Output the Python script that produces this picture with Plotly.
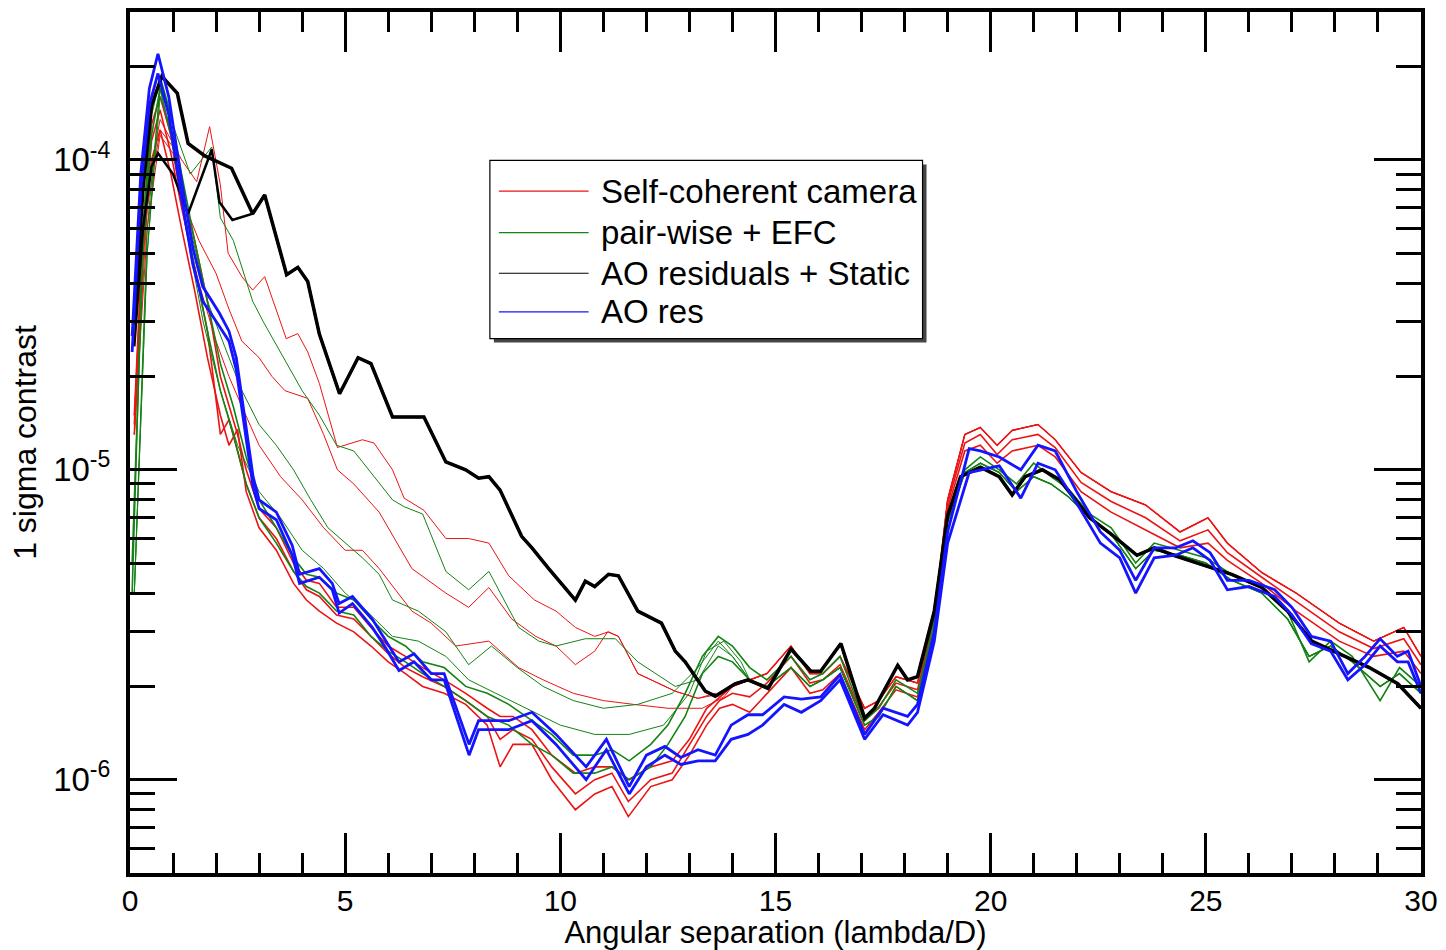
import plotly.graph_objects as go
import math

# ---------------- data ----------------
# AO residuals + Static (black)
BLK_X = [0.1, 0.3, 0.5, 0.74, 1.1, 1.35, 1.74, 2.08, 2.36, 2.85, 3.13, 3.64, 3.9, 4.13, 4.4, 4.87, 5.3, 5.6,
         6.1, 6.83, 7.34, 7.8, 8.1, 8.34, 8.6, 9.1, 9.34, 9.73, 10.35, 10.58, 10.8, 11.12, 11.35, 11.8, 12.35,
         12.67, 12.9, 13.37, 13.6, 14.06, 14.36, 14.83, 15.36, 15.82, 16.05, 16.52, 17.07, 17.3, 17.84, 18.07,
         18.3, 18.69, 19.0, 19.3, 19.76, 20.2, 20.5, 20.8, 21.2, 21.6, 22.3, 22.8, 23.4, 23.8, 24.25, 25.0,
         25.6, 26.3, 26.9, 27.46, 28.25, 28.8, 29.46, 30.0]
BLK_Y = [3e-5, 8e-5, 1.5e-4, 1.86e-4, 1.64e-4, 1.13e-4, 1.03e-4, 9.8e-5, 9.4e-5, 6.7e-5, 7.7e-5, 4.26e-5,
         4.5e-5, 4.05e-5, 2.74e-5, 1.76e-5, 2.3e-5, 2.2e-5, 1.48e-5, 1.48e-5, 1.06e-5, 1.0e-5, 9.4e-6, 9.5e-6,
         8.6e-6, 6.1e-6, 5.6e-6, 4.8e-6, 3.8e-6, 4.37e-6, 4.2e-6, 4.6e-6, 4.55e-6, 3.5e-6, 3.2e-6, 2.6e-6,
         2.4e-6, 1.93e-6, 1.86e-6, 2.04e-6, 2.1e-6, 1.97e-6, 2.64e-6, 2.24e-6, 2.24e-6, 2.75e-6, 1.58e-6,
         1.7e-6, 2.34e-6, 2.1e-6, 2.15e-6, 3.5e-6, 7.1e-6, 9.5e-6, 1.02e-5, 9.5e-6, 8.3e-6, 9.5e-6, 1.0e-5,
         9.3e-6, 7.0e-6, 6.2e-6, 5.3e-6, 5.6e-6, 5.3e-6, 4.9e-6, 4.6e-6, 4.17e-6, 3.5e-6, 2.8e-6, 2.5e-6,
         2.3e-6, 2.04e-6, 1.7e-6]
# second black branch near the first peak (joins BLK after x=2.85)
BLK2_X = [0.1, 0.3, 0.5, 0.65, 1.0, 1.35, 1.9, 2.08, 2.38, 2.85]
BLK2_Y = [2.5e-5, 6e-5, 9.5e-5, 1.05e-4, 9e-5, 6.7e-5, 1.08e-4, 7.3e-5, 6.4e-5, 6.7e-5]

# AO res (blue), upper and lower edges of the bundle
BLU_X = [0.05, 0.25, 0.45, 0.65, 0.9, 1.2, 1.46, 1.69, 2.08, 2.3, 2.47, 2.86, 3.0, 3.4, 3.77, 3.94, 4.4, 4.7,
         4.86, 5.17, 5.63, 5.95, 6.25, 6.6, 7.0, 7.3, 7.88, 8.1, 8.8, 9.34, 9.9, 10.6, 11.07, 11.6, 12.0, 12.43,
         12.8, 13.2, 13.6, 13.97, 14.36, 14.7, 15.2, 15.6, 16.05, 16.5, 17.07, 17.5, 18.07, 18.3, 18.69, 19.0,
         19.5, 19.76, 20.2, 20.7, 21.1, 21.5, 22.0, 22.55, 23.0, 23.37, 23.8, 24.3, 24.7, 25.1, 25.5, 26.0,
         26.6, 27.0, 27.45, 27.9, 28.3, 28.7, 29.05, 29.45, 29.7, 30.0]
BLU_A_Y = [2.7e-5, 9e-5, 1.7e-4, 2.2e-4, 1.6e-4, 8.5e-5, 5.2e-5, 3.9e-5, 3.2e-5, 2.8e-5, 2.3e-5, 9.5e-6, 8.0e-6,
           7.3e-6, 5.7e-6, 4.6e-6, 4.8e-6, 4.3e-6, 3.7e-6, 3.9e-6, 3.3e-6, 2.8e-6, 2.4e-6, 2.55e-6, 2.2e-6,
           2.2e-6, 1.3e-6, 1.55e-6, 1.55e-6, 1.65e-6, 1.4e-6, 1.1e-6, 1.35e-6, 0.95e-6, 1.2e-6, 1.28e-6,
           1.18e-6, 1.25e-6, 1.2e-6, 1.5e-6, 1.62e-6, 1.62e-6, 1.85e-6, 1.82e-6, 1.85e-6, 2.18e-6, 1.4e-6,
           1.7e-6, 1.6e-6, 1.75e-6, 3.0e-6, 6.3e-6, 1.17e-5, 1.15e-5, 1.1e-5, 1.0e-5, 1.2e-5, 1.15e-5, 8.5e-6,
           6.3e-6, 5.5e-6, 4.4e-6, 5.6e-6, 5.6e-6, 5.9e-6, 5.4e-6, 4.4e-6, 4.4e-6, 4.1e-6, 3.6e-6, 2.9e-6,
           2.8e-6, 2.2e-6, 2.5e-6, 2.85e-6, 2.5e-6, 2.6e-6, 2.0e-6]
BLU_B_Y = [2.4e-5, 8e-5, 1.5e-4, 1.9e-4, 1.4e-4, 7.5e-5, 4.6e-5, 3.5e-5, 2.9e-5, 2.6e-5, 2.1e-5, 8.8e-6, 7.5e-6,
           6.9e-6, 5.3e-6, 4.3e-6, 4.5e-6, 4.1e-6, 3.45e-6, 3.7e-6, 3.1e-6, 2.65e-6, 2.25e-6, 2.4e-6, 2.1e-6,
           2.1e-6, 1.2e-6, 1.45e-6, 1.45e-6, 1.55e-6, 1.3e-6, 1.0e-6, 1.25e-6, 0.9e-6, 1.1e-6, 1.2e-6, 1.12e-6,
           1.15e-6, 1.15e-6, 1.35e-6, 1.4e-6, 1.5e-6, 1.75e-6, 1.65e-6, 1.8e-6, 2.1e-6, 1.35e-6, 1.62e-6,
           1.5e-6, 1.65e-6, 2.8e-6, 5.8e-6, 9.8e-6, 1.0e-5, 1.03e-5, 8.1e-6, 1.05e-5, 1.0e-5, 7.8e-6, 5.8e-6,
           5.2e-6, 4.0e-6, 5.2e-6, 5.3e-6, 5.6e-6, 5.1e-6, 4.1e-6, 4.2e-6, 3.9e-6, 3.4e-6, 2.75e-6, 2.6e-6,
           2.1e-6, 2.35e-6, 2.7e-6, 2.4e-6, 2.4e-6, 1.9e-6]

# Self-coherent camera (red): converged bundle edges
RED_X = [0.1, 0.3, 0.5, 0.7, 0.95, 1.2, 1.5, 1.8, 2.1, 2.3, 2.5, 2.7, 3.0, 3.4, 3.8, 4.1, 4.4, 4.8, 5.2, 5.6,
         6.0, 6.4, 6.8, 7.3, 7.8, 8.3, 8.6, 8.9, 9.34, 9.8, 10.35, 10.8, 11.2, 11.58, 12.1, 12.6, 13.0, 13.4,
         13.7, 14.0, 14.4, 14.8, 15.36, 15.8, 16.1, 16.5, 17.07, 17.4, 17.8, 18.3, 18.7, 19.0, 19.4, 19.76,
         20.15, 20.5, 21.1, 21.5, 22.1, 22.8, 23.6, 24.4, 25.05, 25.5, 26.3, 27.1, 28.1, 28.9, 29.6, 30.0]
RED_A_Y = [1.5e-5, 6e-5, 1.3e-4, 1.6e-4, 1.2e-4, 8e-5, 5.5e-5, 3.5e-5, 2.0e-5, 1.6e-5, 1.3e-5, 1.0e-5, 7.5e-6,
           6.5e-6, 5.0e-6, 4.4e-6, 4.3e-6, 3.6e-6, 3.6e-6, 3.1e-6, 2.7e-6, 2.5e-6, 2.3e-6, 2.1e-6, 1.9e-6,
           1.7e-6, 1.6e-6, 1.6e-6, 1.45e-6, 1.2e-6, 1.05e-6, 1.1e-6, 1.1e-6, 1.0e-6, 1.1e-6, 1.15e-6, 1.35e-6,
           1.7e-6, 1.85e-6, 2.0e-6, 2.1e-6, 2.2e-6, 2.7e-6, 2.2e-6, 2.2e-6, 2.5e-6, 1.7e-6, 1.8e-6, 2.15e-6,
           2.05e-6, 3.5e-6, 8e-6, 1.3e-5, 1.37e-5, 1.2e-5, 1.34e-5, 1.4e-5, 1.25e-5, 9.8e-6, 8.5e-6, 7.7e-6,
           6.3e-6, 7.0e-6, 5.8e-6, 4.66e-6, 4.0e-6, 3.2e-6, 2.8e-6, 3.1e-6, 2.5e-6]
RED_B_Y = [1.3e-5, 5e-5, 1.0e-4, 1.25e-4, 9e-5, 6e-5, 3.8e-5, 2.3e-5, 1.5e-5, 1.2e-5, 1.35e-5, 8.5e-6, 6.5e-6,
           5.5e-6, 4.3e-6, 3.8e-6, 3.5e-6, 3.2e-6, 3.0e-6, 2.7e-6, 2.4e-6, 2.2e-6, 2.0e-6, 1.9e-6, 1.75e-6,
           1.5e-6, 1.1e-6, 1.3e-6, 1.3e-6, 1.0e-6, 0.8e-6, 0.9e-6, 0.95e-6, 0.76e-6, 0.95e-6, 1.0e-6, 1.2e-6,
           1.5e-6, 1.7e-6, 1.75e-6, 1.65e-6, 1.9e-6, 2.3e-6, 1.9e-6, 1.95e-6, 2.2e-6, 1.45e-6, 1.65e-6, 1.95e-6,
           1.85e-6, 3.3e-6, 7.5e-6, 1.15e-5, 1.2e-5, 1.05e-5, 1.15e-5, 1.2e-5, 1.1e-5, 8.5e-6, 7.3e-6, 6.4e-6,
           5.6e-6, 5.8e-6, 5.1e-6, 4.3e-6, 3.5e-6, 2.8e-6, 2.5e-6, 2.6e-6, 2.2e-6]
RED_C_Y = [1.4e-5, 5.5e-5, 1.15e-4, 1.45e-4, 1.05e-4, 7e-5, 4.5e-5, 2.8e-5, 1.3e-5, 1.45e-5, 1.15e-5, 9e-6, 7e-6,
           6e-6, 4.7e-6, 4.1e-6, 3.9e-6, 3.4e-6, 3.3e-6, 2.9e-6, 2.55e-6, 2.3e-6, 2.15e-6, 2.0e-6, 1.8e-6,
           1.6e-6, 1.35e-6, 1.45e-6, 1.35e-6, 1.1e-6, 0.9e-6, 1.0e-6, 1.05e-6, 0.85e-6, 1.0e-6, 1.05e-6, 1.3e-6,
           1.6e-6, 1.8e-6, 1.9e-6, 1.85e-6, 2.05e-6, 2.5e-6, 2.05e-6, 2.1e-6, 2.35e-6, 1.55e-6, 1.72e-6, 2.05e-6,
           1.95e-6, 3.4e-6, 7.8e-6, 1.22e-5, 1.3e-5, 1.12e-5, 1.25e-5, 1.3e-5, 1.18e-5, 9.1e-6, 7.9e-6, 7.0e-6,
           5.9e-6, 6.4e-6, 5.4e-6, 4.5e-6, 3.75e-6, 3.0e-6, 2.65e-6, 2.85e-6, 2.35e-6]
# Self-coherent camera: intermediate (not yet converged) curves
RED1_X = [0.1, 0.4, 0.7, 1.2, 1.55, 1.85, 2.1, 2.28, 2.6, 2.85, 3.13, 3.63, 3.9, 4.13, 4.4, 4.82, 5.4, 5.67,
          6.1, 6.37, 6.83, 7.34, 7.87, 8.34, 8.8, 9.4, 9.9, 10.35, 10.8, 11.12, 11.35, 11.8, 12.67, 13.2, 13.6]
RED1_Y = [1.5e-5, 8e-5, 1.35e-4, 1.0e-4, 8.5e-5, 1.28e-4, 8.3e-5, 5.0e-5, 4.2e-5, 3.8e-5, 4.2e-5, 2.65e-5,
          2.75e-5, 2.4e-5, 1.9e-5, 1.18e-5, 1.25e-5, 1.22e-5, 1.0e-5, 8.1e-6, 7.4e-6, 6.0e-6, 6.0e-6, 5.8e-6,
          4.55e-6, 3.8e-6, 3.5e-6, 3.1e-6, 2.9e-6, 3.0e-6, 2.9e-6, 2.2e-6, 1.93e-6, 1.83e-6, 1.9e-6]
RED2_X = [0.1, 0.4, 0.7, 1.0, 1.3, 1.6, 2.0, 2.3, 2.6, 3.0, 3.3, 3.6, 4.13, 4.5, 4.82, 5.2, 5.79, 6.55, 7.34,
          7.87, 8.34, 8.87, 9.43, 9.9, 10.35, 10.8, 11.1, 11.35, 11.8, 12.67, 13.2, 13.8]
RED2_Y = [1.3e-5, 7e-5, 1.25e-4, 1.1e-4, 7e-5, 5.5e-5, 4.3e-5, 3.3e-5, 2.6e-5, 2.3e-5, 2.0e-5, 1.8e-5, 1.7e-5,
          1.3e-5, 1.0e-5, 9e-6, 7.3e-6, 4.8e-6, 4.0e-6, 3.6e-6, 4.17e-6, 3.3e-6, 2.9e-6, 2.7e-6, 2.35e-6,
          2.6e-6, 3.0e-6, 2.9e-6, 2.2e-6, 1.93e-6, 1.83e-6, 1.9e-6]
RED3_X = [0.1, 0.4, 0.7, 1.0, 1.3, 1.6, 2.0, 2.3, 2.6, 3.0, 3.5, 4.0, 4.5, 5.0, 5.4, 5.79, 6.55, 7.0, 7.57, 8.34,
          9.03, 9.6, 10.3, 11.0, 11.7, 12.5, 13.3, 13.8]
RED3_Y = [1.3e-5, 6e-5, 1.2e-4, 1.05e-4, 6e-5, 4e-5, 2.6e-5, 2.0e-5, 1.6e-5, 1.2e-5, 9.5e-6, 8e-6, 6.5e-6,
          5.5e-6, 5.5e-6, 4.8e-6, 3.5e-6, 3.2e-6, 2.7e-6, 2.8e-6, 2.3e-6, 2.1e-6, 1.9e-6, 1.8e-6, 1.75e-6,
          1.7e-6, 1.7e-6, 1.85e-6]

# pair-wise + EFC (green): converged bundle edges
GRN_X = [0.05, 0.3, 0.5, 0.7, 0.95, 1.2, 1.5, 1.8, 2.1, 2.4, 2.7, 3.0, 3.4, 3.8, 4.1, 4.4, 4.8, 5.2, 5.6, 6.0,
         6.4, 6.8, 7.3, 7.8, 8.3, 8.8, 9.34, 9.8, 10.3, 10.8, 11.2, 11.6, 12.1, 12.5, 12.9, 13.3, 13.67, 14.0,
         14.4, 14.8, 15.36, 15.8, 16.1, 16.5, 17.07, 17.4, 17.8, 18.3, 18.7, 19.0, 19.4, 19.76, 20.2, 20.6, 21.0,
         21.4, 21.8, 22.3, 22.8, 23.37, 23.8, 24.4, 25.0, 25.6, 26.3, 26.9, 27.4, 27.9, 28.4, 29.05, 29.5, 30.0]
GRN_A_Y = [4e-6, 6e-5, 1.4e-4, 1.85e-4, 1.4e-4, 9e-5, 5.5e-5, 3.5e-5, 2.2e-5, 1.6e-5, 1.1e-5, 8e-6, 6.5e-6,
           5.2e-6, 4.6e-6, 4.5e-6, 4.0e-6, 3.8e-6, 3.3e-6, 2.9e-6, 2.7e-6, 2.4e-6, 2.3e-6, 2.0e-6, 1.9e-6,
           1.75e-6, 1.55e-6, 1.4e-6, 1.2e-6, 1.2e-6, 1.25e-6, 1.15e-6, 1.3e-6, 1.5e-6, 1.9e-6, 2.5e-6, 2.9e-6,
           2.7e-6, 2.3e-6, 2.1e-6, 2.5e-6, 2.1e-6, 2.2e-6, 2.5e-6, 1.55e-6, 1.7e-6, 2.1e-6, 1.9e-6, 3.3e-6, 7e-6,
           1.0e-5, 1.1e-5, 1.0e-5, 9e-6, 1.05e-5, 9.5e-6, 8.7e-6, 7.2e-6, 6.5e-6, 5.0e-6, 5.8e-6, 5.5e-6, 5.2e-6,
           4.6e-6, 4.2e-6, 3.5e-6, 2.4e-6, 2.8e-6, 2.5e-6, 1.8e-6, 2.3e-6, 2.0e-6]
GRN_B_Y = [5e-6, 5e-5, 1.2e-4, 1.7e-4, 1.2e-4, 7.5e-5, 4.5e-5, 2.8e-5, 1.8e-5, 1.3e-5, 9e-6, 7e-6, 5.8e-6, 4.7e-6,
           4.2e-6, 4.0e-6, 3.5e-6, 3.4e-6, 2.9e-6, 2.6e-6, 2.4e-6, 2.2e-6, 2.0e-6, 1.8e-6, 1.6e-6, 1.5e-6, 1.3e-6,
           1.2e-6, 1.05e-6, 1.05e-6, 1.1e-6, 1.0e-6, 1.1e-6, 1.3e-6, 1.6e-6, 2.2e-6, 2.5e-6, 2.4e-6, 2.1e-6,
           2.0e-6, 2.3e-6, 2.0e-6, 2.1e-6, 2.3e-6, 1.5e-6, 1.6e-6, 2.0e-6, 1.8e-6, 3.1e-6, 6.8e-6, 9.8e-6,
           1.05e-5, 9.8e-6, 8.5e-6, 9.5e-6, 9e-6, 8.2e-6, 7e-6, 6.2e-6, 4.8e-6, 5.5e-6, 5.3e-6, 5.0e-6, 4.4e-6,
           4.0e-6, 3.3e-6, 2.5e-6, 2.7e-6, 2.4e-6, 2.0e-6, 2.2e-6, 1.9e-6]
# pair-wise + EFC: intermediate curves
GRN1_X = [0.1, 0.4, 0.7, 1.0, 1.4, 1.9, 2.1, 2.4, 2.85, 3.1, 3.5, 4.0, 4.4, 4.8, 5.2, 5.79, 6.1, 6.37, 6.8, 7.34,
          7.87, 8.34, 9.03, 9.5, 9.9, 10.58, 11.28, 11.8, 12.67, 13.2, 13.67, 14.0]
GRN1_Y = [4e-6, 6e-5, 1.7e-4, 1.3e-4, 9e-5, 1.1e-4, 6.5e-5, 5.5e-5, 3.5e-5, 3.0e-5, 2.4e-5, 1.8e-5, 1.5e-5,
          1.2e-5, 1.15e-5, 9.1e-6, 8e-6, 7.6e-6, 7.2e-6, 4.7e-6, 4.1e-6, 4.7e-6, 3.1e-6, 2.8e-6, 2.7e-6, 2.85e-6,
          2.85e-6, 2.4e-6, 2.0e-6, 2.1e-6, 2.7e-6, 2.5e-6]
GRN2_X = [0.1, 0.4, 0.7, 1.0, 1.4, 1.8, 2.2, 2.6, 3.0, 3.4, 3.8, 4.2, 4.6, 5.0, 5.4, 5.79, 6.1, 6.7, 7.34, 7.87,
          8.4, 9.0, 9.6, 10.3, 11.0, 11.8, 12.6, 13.2, 13.67, 14.0]
GRN2_Y = [4e-6, 5e-5, 1.6e-4, 1.2e-4, 6e-5, 3.5e-5, 2.5e-5, 1.8e-5, 1.4e-5, 1.2e-5, 1.0e-5, 8e-6, 6.5e-6,
          5.8e-6, 5.2e-6, 4.6e-6, 3.8e-6, 3.5e-6, 3.0e-6, 2.35e-6, 2.7e-6, 2.3e-6, 2.0e-6, 1.8e-6, 1.7e-6,
          1.75e-6, 1.9e-6, 2.3e-6, 2.8e-6, 2.5e-6]
GRN3_X = [0.1, 0.4, 0.7, 1.0, 1.3, 1.7, 2.1, 2.5, 3.0, 3.5, 4.0, 4.5, 5.0, 5.5, 6.1, 6.7, 7.34, 7.87, 8.5, 9.2,
          10.0, 10.8, 11.6, 12.4, 13.0, 13.4, 13.8, 14.2]
GRN3_Y = [4e-6, 5e-5, 1.8e-4, 1.3e-4, 6e-5, 3e-5, 1.8e-5, 1.2e-5, 8.5e-6, 7e-6, 5.5e-6, 4.8e-6, 4e-6, 3.5e-6,
          2.9e-6, 2.8e-6, 2.5e-6, 2.1e-6, 1.9e-6, 1.7e-6, 1.5e-6, 1.4e-6, 1.4e-6, 1.5e-6, 1.9e-6, 2.6e-6,
          2.8e-6, 2.4e-6]

SERIES_NAMES = ["Self-coherent camera", "pair-wise + EFC", "AO residuals + Static", "AO res"]
X_TICKS = [0, 5, 10, 15, 20, 25, 30]
Y_TICKS = [1e-6, 1e-5, 1e-4]
Y_TICK_TEXT = ["10<sup>-6</sup>", "10<sup>-5</sup>", "10<sup>-4</sup>"]
X_TITLE = "Angular separation (lambda/D)"
Y_TITLE = "1 sigma contrast"

# ---------------- styling ----------------
RED = "rgb(235,20,20)"
GREEN = "rgb(20,130,20)"
BLACK = "rgb(0,0,0)"
BLUE = "rgb(20,20,255)"
FONT = "Liberation Sans, Arial, Helvetica, sans-serif"


def join(seg_x, seg_y, base_x, base_y):
    """Continue an intermediate curve with the converged bundle once it merges."""
    last = seg_x[-1]
    tail = [(x, y) for x, y in zip(base_x, base_y) if x > last]
    return seg_x + [t[0] for t in tail], seg_y + [t[1] for t in tail]


fig = go.Figure()


def add(x, y, color, width):
    fig.add_trace(go.Scatter(x=x, y=y, mode="lines", line=dict(color=color, width=width),
                             showlegend=False, hoverinfo="skip"))


# red
for sx, sy in [(RED1_X, RED1_Y), (RED2_X, RED2_Y), (RED3_X, RED3_Y)]:
    xx, yy = join(sx, sy, RED_X, RED_A_Y)
    add(xx, yy, RED, 1)
add(RED_X, RED_A_Y, RED, 1.6)
add(RED_X, RED_C_Y, RED, 1.6)
add(RED_X, RED_B_Y, RED, 1.6)
# green
for sx, sy in [(GRN1_X, GRN1_Y), (GRN2_X, GRN2_Y), (GRN3_X, GRN3_Y)]:
    xx, yy = join(sx, sy, GRN_X, GRN_B_Y)
    add(xx, yy, GREEN, 1)
add(GRN_X, GRN_A_Y, GREEN, 1.6)
add(GRN_X, GRN_B_Y, GREEN, 1.6)
# black
bx, by = join(BLK2_X, BLK2_Y, BLK_X, BLK_Y)
add(bx, by, BLACK, 2.5)
add(BLK_X, BLK_Y, BLACK, 3.5)
# blue
add(BLU_X, BLU_B_Y, BLUE, 2.8)
add(BLU_X, BLU_A_Y, BLUE, 2.8)

# minor tick values on the log axis
minor_vals = []
for e in range(-7, -3):
    for m in range(2, 10):
        v = m * 10 ** e
        if 5e-7 <= v <= 3e-4:
            minor_vals.append(v)

# ---------------- legend drawn by hand (long line samples, shadowed box) ----------------
L, R_, T, B = 130, 1425, 8, 878


def px(xp):
    return (xp - L) / (R_ - L)


def py(yp):
    return (B - yp) / (B - T)


shapes = [
    dict(type="rect", xref="paper", yref="paper", x0=px(495), x1=px(929), y0=py(162), y1=py(342),
         fillcolor="rgb(70,70,70)", line=dict(width=0), layer="above"),
    dict(type="rect", xref="paper", yref="paper", x0=px(491), x1=px(925), y0=py(158), y1=py(338),
         fillcolor="white", line=dict(color="black", width=1.2), layer="above"),
]
annotations = []
leg_colors = [RED, GREEN, BLACK, BLUE]
leg_rows = [189, 231, 272, 311]
for name, col, yr in zip(SERIES_NAMES, leg_colors, leg_rows):
    shapes.append(dict(type="line", xref="paper", yref="paper", x0=px(500), x1=px(590), y0=py(yr), y1=py(yr),
                       line=dict(color=col, width=1.2), layer="above"))
    annotations.append(dict(xref="paper", yref="paper", x=px(600), y=py(yr), text=name, showarrow=False,
                            xanchor="left", yanchor="middle", font=dict(size=33, color="black", family=FONT)))

fig.update_layout(
    width=1446, height=950,
    margin=dict(l=L, r=1446 - R_, t=T, b=950 - B),
    paper_bgcolor="white", plot_bgcolor="white",
    showlegend=False,
    font=dict(family=FONT, size=32, color="black"),
    shapes=shapes, annotations=annotations,
)
fig.update_xaxes(
    range=[0, 30], tickvals=X_TICKS, ticks="inside", ticklen=40, tickwidth=3, tickcolor="black",
    minor=dict(dtick=1, tick0=0, ticks="inside", ticklen=20, tickwidth=3, tickcolor="black", showgrid=False),
    showline=True, linewidth=4, linecolor="black", mirror="allticks",
    showgrid=False, zeroline=False, tickfont=dict(size=30), ticklabelstandoff=-2,
    title=dict(text=X_TITLE, font=dict(size=31), standoff=3),
)
fig.update_yaxes(
    type="log", range=[math.log10(5e-7), math.log10(3e-4)],
    tickvals=Y_TICKS, ticktext=Y_TICK_TEXT, ticks="inside", ticklen=47, tickwidth=3, tickcolor="black",
    minor=dict(tickvals=minor_vals, ticks="inside", ticklen=25, tickwidth=3, tickcolor="black", showgrid=False),
    showline=True, linewidth=4, linecolor="black", mirror="allticks",
    showgrid=False, zeroline=False, tickfont=dict(size=33), ticklabelstandoff=9,
    title=dict(text=Y_TITLE, font=dict(size=32), standoff=8),
)

fig.write_html("out.html")
